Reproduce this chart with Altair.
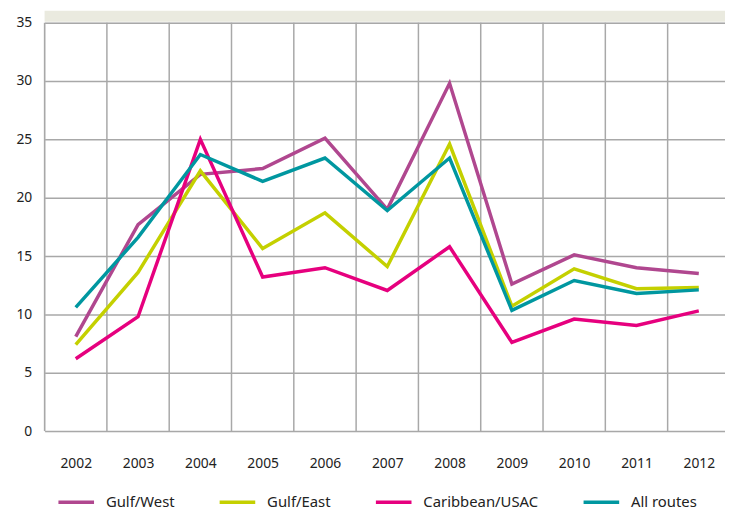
import altair as alt
import pandas as pd

years = [2002, 2003, 2004, 2005, 2006, 2007, 2008, 2009, 2010, 2011, 2012]
series_names = ["Gulf/West", "Gulf/East", "Caribbean/USAC", "All routes"]
gulf_west = [8.1, 17.7, 22.0, 22.5, 25.1, 19.0, 29.8, 12.6, 15.1, 14.0, 13.5]
gulf_east = [7.4, 13.6, 22.3, 15.65, 18.7, 14.1, 24.6, 10.7, 13.9, 12.2, 12.3]
caribbean = [6.2, 9.8, 25.0, 13.2, 14.0, 12.05, 15.8, 7.6, 9.6, 9.05, 10.3]
all_routes = [10.6, 16.6, 23.7, 21.4, 23.4, 18.9, 23.4, 10.35, 12.9, 11.8, 12.1]
colors = ["#B0478F", "#C4D000", "#E6007E", "#0097A0"]
widths = [3.5, 3.5, 3.5, 6]
y_ticks = [0, 5, 10, 15, 20, 25, 30, 35]

rows = []
for name, vals in zip(series_names, [gulf_west, gulf_east, caribbean, all_routes]):
    for yr, v in zip(years, vals):
        rows.append({"year": yr, "series": name, "value": v})
df = pd.DataFrame(rows)

grid_df = pd.DataFrame({"gx": [y - 0.5 for y in years]})

W = 688
H = 413
band = 63.0
xmin = years[0] - 0.5
xmax = xmin + W / band

font = "Noto Sans"

xscale = alt.Scale(domain=[xmin, xmax], nice=False, zero=False)
yscale = alt.Scale(domain=[0, 35], nice=False)

xaxis = alt.Axis(values=years, format="d", grid=False, domain=False, ticks=False,
                 labelPadding=26, labelFontSize=14, labelFont=font,
                 labelColor="#222", title=None)

legend = alt.Legend(title=None, orient="none", direction="horizontal",
                    legendX=12, legendY=465, symbolType="stroke",
                    symbolSize=1296,
                    labelFont=font, labelFontSize=15, labelColor="#222",
                    labelOffset=10, columnPadding=38)

top_band = alt.Chart(pd.DataFrame({"a": [0]})).mark_rect(color="#EAEADF").encode(
    x=alt.value(0), x2=alt.value(W), y=alt.value(-12), y2=alt.value(-1)
)

vgrid = alt.Chart(grid_df).mark_rule(color="#A8A8A8", strokeWidth=1.5).encode(
    x=alt.X("gx:Q", scale=xscale, axis=xaxis)
)

lines = alt.Chart(df).mark_line(strokeCap="butt", strokeJoin="miter").encode(
    x=alt.X("year:Q", scale=xscale, axis=xaxis),
    y=alt.Y("value:Q", scale=yscale,
            axis=alt.Axis(values=y_ticks, grid=True, gridColor="#A8A8A8", gridWidth=1.5,
                          domain=False, ticks=False, labelPadding=13, labelFontSize=14,
                          labelFont=font, labelColor="#222", title=None)),
    color=alt.Color("series:N", scale=alt.Scale(domain=series_names, range=colors),
                    sort=series_names, legend=legend),
    strokeWidth=alt.StrokeWidth("series:N", scale=alt.Scale(domain=series_names, range=widths),
                                sort=series_names, legend=legend),
    order=alt.Order("year:Q"),
)

chart = alt.layer(top_band, vgrid, lines).properties(
    width=W, height=H,
    autosize=alt.AutoSizeParams(type="none"),
    padding={"left": 37, "top": 12, "right": 0, "bottom": 80},
).configure_view(stroke=None).configure(font=font)

chart.save("out.html", embed_options={"renderer": "svg", "actions": False})
